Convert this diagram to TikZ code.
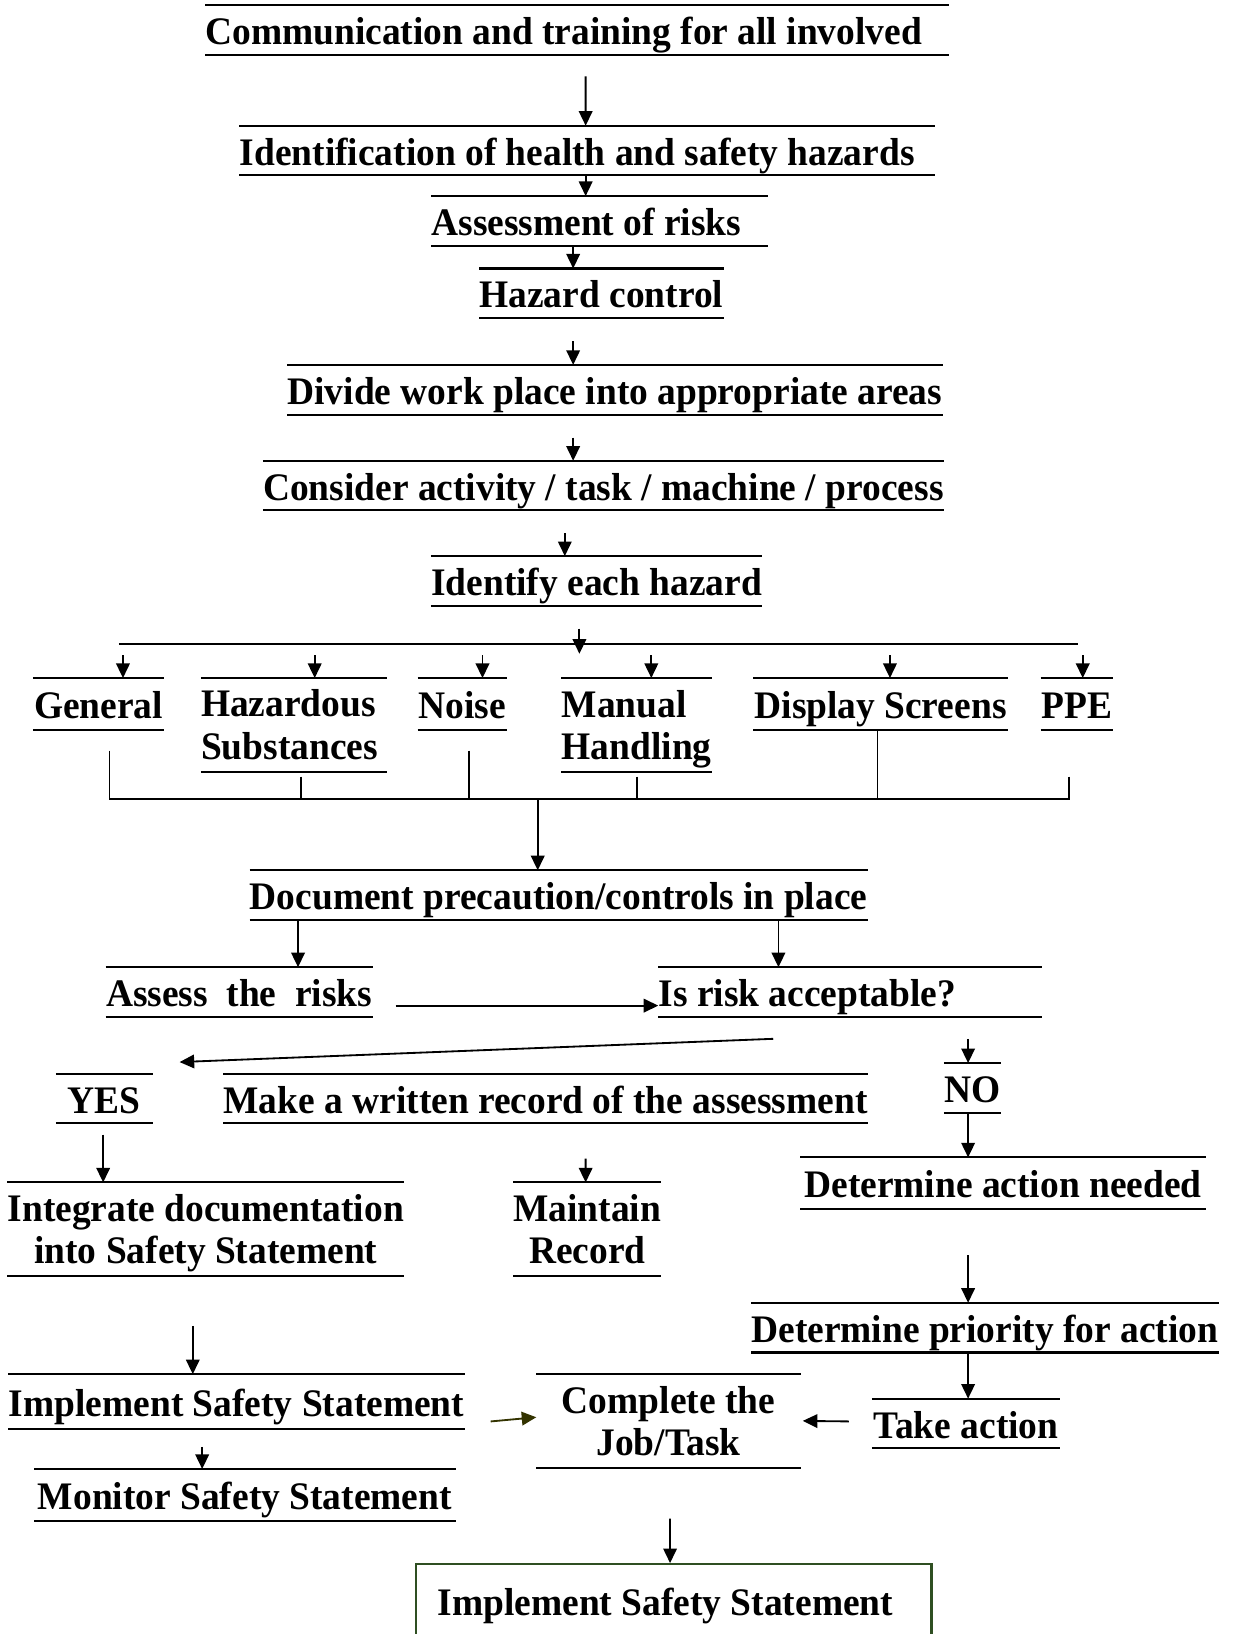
\documentclass[tikz,border=0pt]{standalone}
\usepackage{fontspec}
\setmainfont{Liberation Serif}[FakeStretch=0.96]
\usetikzlibrary{arrows.meta}
\definecolor{boxgreen}{RGB}{47,79,34}
\definecolor{darkolive}{RGB}{51,51,0}

\begin{document}
\begin{tikzpicture}[x=0.02cm, y=-0.02cm,
	rule/.style={line width=1.1pt},
	link/.style={line width=1pt},
	arr/.style={link, -{Triangle[length=0.28cm, width=0.26cm]}},
	Bar/.style={inner sep=0pt, align=center, font=\bfseries\fontsize{21.3}{23.2}\selectfont,
		execute at begin node={\spaceskip=0pt\xspaceskip=0pt},
		append after command={(\tikzlastnode.north west) edge [rule] (\tikzlastnode.north east)
			(\tikzlastnode.south west) edge [rule] (\tikzlastnode.south east)}},
	Step/.style={Bar, text height=18pt, text depth=2pt, minimum height=0.94cm},
	Pair/.style={Bar, minimum height=1.78cm},
	Goal/.style={draw=boxgreen, line width=1.2pt, inner xsep=0.42cm, inner ysep=0pt, align=left,
		font=\bfseries\fontsize{21.3}{23.2}\selectfont, execute at begin node={\spaceskip=0pt\xspaceskip=0pt},
		text height=18pt, text depth=2pt, text width=9.06cm, minimum height=1.4cm}]
	\useasboundingbox (0,0) rectangle (1184,1568);

	% main chain
	\node [Step, text width=14.26cm, align=left] (Comm) at (553.5,28.5) {Communication and training for all involved};
	\node [Step, text width=13.34cm, align=left] (Ident) at (563.5,144.5) {Identification of health and safety hazards};
	\node [Step, text width=6.46cm, align=left] (Assess) at (575.5,212) {Assessment of risks};
	\node [Step, minimum width=4.68cm] (Control) at (577,281.5) {Hazard control};
	\node [Step, minimum width=12.56cm] (Divide) at (590,374) {Divide work place into appropriate areas};
	\node [Step, minimum width=13.04cm] (Consider) at (579,466) {Consider activity / task / machine / process};
	\node [Step, minimum width=6.34cm] (Hazard) at (572.5,557.5) {Identify each hazard};
	\draw [arr] ([shift={(8.5,21)}]Comm.south) -- ([shift={(-1.5,0)}]Ident.north);
	\draw [arr] ([shift={(-1.5,0)}]Ident.south) -- ([shift={(-13.5,0)}]Assess.north);
	\draw [arr] ([shift={(-25.5,0)}]Assess.south) -- ([shift={(-27,0)}]Control.north);
	\draw [arr] ([shift={(-27,22)}]Control.south) -- ([shift={(-40,0)}]Divide.north);
	\draw [arr] ([shift={(-40,22)}]Divide.south) -- ([shift={(-29,0)}]Consider.north);
	\draw [arr] ([shift={(-37,22)}]Consider.south) -- ([shift={(-30.5,0)}]Hazard.north);

	% hazard areas
	\coordinate (FanL) at (114,618);
	\coordinate (FanR) at (1034,618);
	\draw [rule] (FanL) -- (FanR);
	\draw [arr] ([shift={(-16.5,22)}]Hazard.south) -- ([shift={(-16.5,46)}]Hazard.south);
	\node [Step, minimum width=2.5cm, minimum height=0.98cm] (General) at (94.5,675.5) {General};
	\node [Pair, text width=3.56cm, align=left] (Substances) at (282,695.5) {Hazardous\\Substances};
	\node [Step, minimum width=1.7cm, minimum height=0.98cm] (Noise) at (443.5,675.5) {Noise};
	\node [Pair, text width=2.88cm, align=left] (Manual) at (611,695.5) {Manual\\\smash{Handling}};
	\node [Step, minimum width=4.88cm, minimum height=0.98cm] (Screens) at (845,675.5) {Display Screens};
	\node [Step, minimum width=1.38cm, minimum height=0.98cm] (PPE) at (1033.5,675.5) {PPE};
	\draw [arr] ([shift={(23.5,-22)}]General.north) -- ([shift={(23.5,0)}]General.north);
	\draw [arr] ([shift={(20,-22)}]Substances.north) -- ([shift={(20,0)}]Substances.north);
	\draw [arr] ([shift={(19.5,-22)}]Noise.north) -- ([shift={(19.5,0)}]Noise.north);
	\draw [arr] ([shift={(14,-22)}]Manual.north) -- ([shift={(14,0)}]Manual.north);
	\draw [arr] ([shift={(9,-22)}]Screens.north) -- ([shift={(9,0)}]Screens.north);
	\draw [arr] ([shift={(5.5,-22)}]PPE.north) -- ([shift={(5.5,0)}]PPE.north);

	% gather
	\coordinate (Merge) at (516,767);
	\draw [link] ([shift={(10.5,20)}]General.south) |- (Merge);
	\draw [link] ([shift={(7,5)}]Substances.south) |- (Merge);
	\draw [link] ([shift={(6.5,20)}]Noise.south) |- (Merge);
	\draw [link] ([shift={(0,5)}]Manual.south) |- (Merge);
	\draw [link] ([shift={(-3,0)}]Screens.south) |- (Merge);
	\draw [link] ([shift={(-7.5,45)}]PPE.south) |- (Merge);

	\node [Step, minimum width=11.84cm] (Document) at (536,859) {Document precaution/controls in place};
	\draw [arr] (Merge) -- (Merge |- Document.north);
	\node [Step, minimum width=5.1cm] (Risks) at (229.5,952) {Assess\ \ the\ \ risks};
	\node [Step, text width=7.36cm, align=left] (Accept) at (816,952) {Is risk acceptable?};
	\draw [arr] ([shift={(-250,0)}]Document.south) -- ([shift={(56.5,0)}]Risks.north);
	\draw [arr] ([shift={(211,0)}]Document.south) -- ([shift={(-69,0)}]Accept.north);
	\draw [arr] ([shift={(22,13)}]Risks.east) -- ([shift={(0,13)}]Accept.west);

	% yes / no
	\node [Step, minimum width=1.84cm] (Yes) at (100,1054) {YES};
	\node [Step, minimum width=12.34cm] (Record) at (523.5,1054) {Make a written record of the assessment};
	\node [Step, minimum width=1.08cm] (No) at (933,1044) {NO};
	\draw [arr] ([shift={(-74,21)}]Accept.south) -- ([shift={(26,-11)}]Yes.north east);
	\draw [arr] ([shift={(113,21)}]Accept.south) -- ([shift={(-4,0)}]No.north);

	\node [Pair, minimum width=7.58cm] (Integrate) at (197.5,1179.5) {Integrate documentation\\\smash{into Safety Statement}};
	\node [Pair, minimum width=2.82cm] (Maintain) at (563.5,1179.5) {Maintain\\Record};
	\node [Step, minimum width=7.78cm, minimum height=0.98cm] (Action) at (962.5,1135.5) {Determine action needed};
	\draw [arr] ([shift={(-1,11)}]Yes.south) -- ([shift={(-98.5,0)}]Integrate.north);
	\draw [arr] ([shift={(38.5,34)}]Record.south) -- ([shift={(-1.5,0)}]Maintain.north);
	\draw [arr] ([shift={(-4,0)}]No.south) -- ([shift={(-33.5,0)}]Action.north);

	\node [Step, minimum width=8.92cm] (Priority) at (945,1274) {Determine priority for action};
	\node [Step, minimum width=3.6cm] (Take) at (927,1366) {Take action};
	\node [Pair, minimum width=5.06cm] (Complete) at (641.5,1363.5) {Complete the\\Job/Task};
	\draw [arr] ([shift={(-33.5,44)}]Action.south) -- ([shift={(-16,0)}]Priority.north);
	\draw [arr] ([shift={(-16,0)}]Priority.south) -- ([shift={(2,0)}]Take.north);
	\draw [arr] ([shift={(-22,-2)}]Take.west) -- ([shift={(2,0)}]Complete.east);

	\node [Step, minimum width=8.72cm, minimum height=1.04cm] (Implement) at (227,1345) {Implement Safety Statement};
	\node [Step, minimum width=8.08cm, minimum height=0.98cm] (Monitor) at (235,1434.5) {Monitor Safety Statement};
	\draw [arr] ([shift={(-12.5,48)}]Integrate.south) -- ([shift={(-42,0)}]Implement.north);
	\draw [arr, darkolive] ([shift={(25,19)}]Implement.east) -- ([shift={(0,-3.5)}]Complete.west);
	\draw [arr] ([shift={(-33,17)}]Implement.south) -- ([shift={(-41,0)}]Monitor.north);

	\node [Goal] (Final) at (646.5,1536) {Implement Safety Statement};
	\draw [arr] ([shift={(1.5,49)}]Complete.south) -- ([shift={(-3.5,0)}]Final.north);
\end{tikzpicture}
\end{document}
